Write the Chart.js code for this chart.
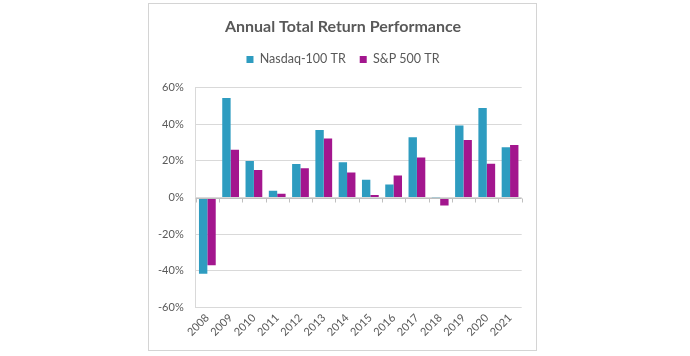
<!DOCTYPE html>
<html>
<head>
<meta charset="utf-8">
<script src="https://cdn.jsdelivr.net/npm/chart.js@4"></script>
<style>
html,body{margin:0;padding:0;background:#fff;}
#wrap{position:relative;width:690px;height:356px;}
#box{position:absolute;left:148px;top:3px;width:389px;height:348px;border:1px solid #d4d4d4;box-sizing:border-box;}
canvas{position:absolute;left:0;top:0;}
</style>
</head>
<body>
<div id="wrap"><div id="box"></div><canvas id="c" width="690" height="356"></canvas></div>
<script>
const categories = ["2008","2009","2010","2011","2012","2013","2014","2015","2016","2017","2018","2019","2020","2021"];
const nasdaq = [-41.7, 54.4, 20.0, 3.7, 18.3, 36.9, 19.3, 9.7, 7.1, 32.9, -0.1, 39.4, 48.9, 27.5];
const sp500 = [-37.0, 26.1, 15.0, 2.1, 16.0, 32.3, 13.6, 1.4, 12.0, 21.8, -4.4, 31.4, 18.4, 28.7];
const yTicks = [-60, -40, -20, 0, 20, 40, 60];

const textColor = '#595959';
const zeroTicks = {
  id: 'zeroTicks',
  afterDatasetsDraw(chart) {
    const x = chart.scales.x, y = chart.scales.y, ctx = chart.ctx;
    const y0 = Math.round(y.getPixelForValue(0)) + 0.5;
    ctx.save();
    ctx.strokeStyle = '#bfbfbf';
    ctx.lineWidth = 1;
    ctx.beginPath();
    for (let i = 0; i <= categories.length; i++) {
      const px = Math.round(x.left + (x.right - x.left) * i / categories.length) + 0.5;
      ctx.moveTo(px, y0); ctx.lineTo(px, y0 + 4);
    }
    ctx.moveTo(x.left, y0); ctx.lineTo(x.right, y0);
    ctx.stroke();
    ctx.restore();
  }
};
const legendSpace = {
  id: 'legendSpace',
  beforeInit(chart) {
    const orig = chart.legend.fit;
    chart.legend.fit = function () { orig.call(this); this.height += 12; };
  }
};

new Chart(document.getElementById('c'), {
  type: 'bar',
  data: {
    labels: categories,
    datasets: [
      { label: 'Nasdaq-100 TR', data: nasdaq, backgroundColor: '#2E9CC0' },
      { label: 'S&P 500 TR', data: sp500, backgroundColor: '#A3168E' }
    ]
  },
  options: {
    responsive: false,
    animation: false,
    devicePixelRatio: 1,
    layout: { padding: { left: 148, right: 152, top: 8, bottom: 4 } },
    datasets: { bar: { categoryPercentage: 0.72, barPercentage: 1.0 } },
    plugins: {
      title: {
        display: true,
        text: 'Annual Total Return Performance',
        color: textColor,
        font: { family: 'Lato', size: 16, weight: 'bold' },
        padding: { top: 9, bottom: 3 }
      },
      legend: {
        display: true,
        labels: {
          color: textColor,
          font: { family: 'Lato', size: 12.5 },
          boxWidth: 7, boxHeight: 7,
          padding: 14
        }
      },
      tooltip: { enabled: false }
    },
    scales: {
      x: {
        grid: { display: false, drawTicks: false },
        border: { display: false },
        ticks: {
          color: textColor,
          font: { family: 'Lato', size: 11 },
          maxRotation: 45, minRotation: 45,
          padding: 4
        },
        afterFit(s) { s.height = 44.7; }
      },
      y: {
        min: -60, max: 60,
        afterBuildTicks(s) { s.ticks = yTicks.map(v => ({ value: v })); },
        grid: { color: '#d9d9d9', drawTicks: false },
        border: { display: true, color: '#d9d9d9' },
        ticks: {
          color: textColor,
          font: { family: 'Lato', size: 11 },
          padding: 12,
          callback: v => v + '%'
        },
        afterFit(s) { s.width = 47.7; }
      },
      yRight: {
        position: 'right',
        display: true,
        min: -60, max: 60,
        grid: { display: false, drawTicks: false },
        border: { display: false },
        ticks: { display: false },
        afterFit(s) { s.width = 16.3; }
      }
    }
  },
  plugins: [zeroTicks, legendSpace]
});
</script>
</body>
</html>
